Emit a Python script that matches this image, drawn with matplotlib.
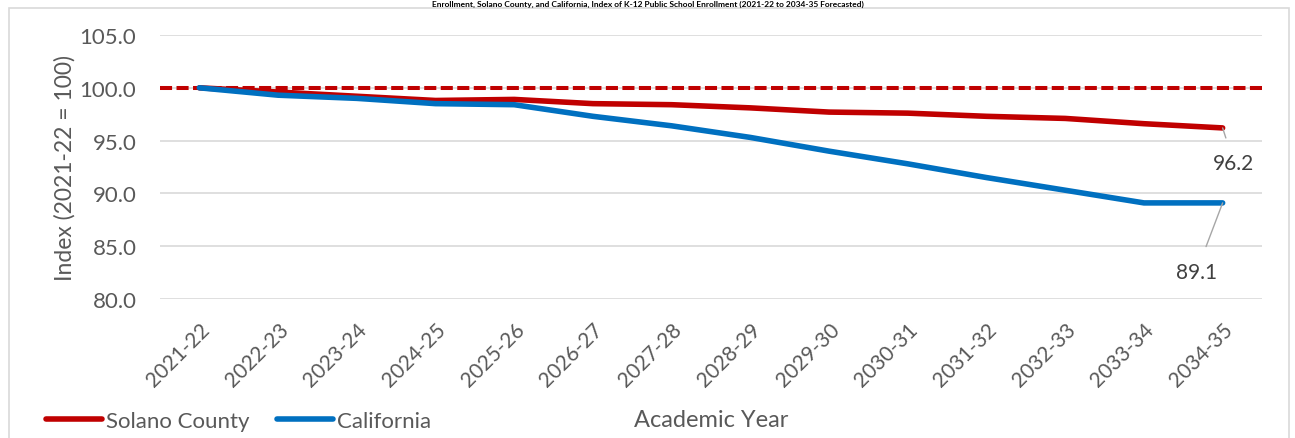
import matplotlib.pyplot as plt
from matplotlib.patches import Rectangle

years = ["2021-22", "2022-23", "2023-24", "2024-25", "2025-26", "2026-27", "2027-28",
         "2028-29", "2029-30", "2030-31", "2031-32", "2032-33", "2033-34", "2034-35"]
solano = [100.0, 99.6, 99.2, 98.8, 98.9, 98.5, 98.4, 98.1, 97.7, 97.6, 97.3, 97.1, 96.6, 96.2]
california = [100.0, 99.3, 99.0, 98.5, 98.4, 97.3, 96.4, 95.3, 94.0, 92.8, 91.5, 90.3, 89.1, 89.1]
baseline = 100.0
yticks = [80.0, 85.0, 90.0, 95.0, 100.0, 105.0]

RED = "#C00000"
BLUE = "#0070C0"
GRAY = "#595959"
W, H = 1295, 439

plt.rcParams["font.family"] = ["Lato", "DejaVu Sans"]

fig = plt.figure(figsize=(W / 100, H / 100), dpi=100)
ax = fig.add_axes([160 / W, 1 - 300 / H, (1262 - 160) / W, (300 - 36) / H])

# chart area outline (runs off the bottom of the crop)
fig.patches.append(Rectangle((9 / W, -0.1), (1289 - 9) / W, 1.1 - 9 / H,
                             transform=fig.transFigure, fill=False,
                             edgecolor="#D9D9D9", lw=1.2))

# title squeezed into the strip above the chart outline
fig.text(0.5, 1 - 0.5 / H, "Enrollment, Solano County, and California, Index of K-12 Public School "
         "Enrollment (2021-22 to 2034-35 Forecasted)", ha="center", va="top",
         fontsize=6, fontweight="bold", color="black")

x = list(range(len(years)))
ax.axhline(baseline, color=RED, lw=2.9, ls=(0, (3, 1.1)), zorder=2)
ax.plot(x, solano, color=RED, lw=4, solid_capstyle="round", label="Solano County", zorder=3)
ax.plot(x, california, color=BLUE, lw=4, solid_capstyle="round", label="California", zorder=3)

ax.set_xlim(-0.5, len(years) - 0.5)
ax.set_ylim(80, 105)
ax.set_yticks(yticks)
ax.set_yticklabels([f"{v:.1f}" for v in yticks])
ax.set_xticks(x)
ax.set_xticklabels(years, rotation=45, ha="right", rotation_mode="anchor")
ax.tick_params(length=0, labelsize=16, colors=GRAY)
ax.tick_params(axis="x", labelsize=15, pad=14)
ax.tick_params(axis="y", pad=17)
ax.grid(axis="y", color="#D9D9D9", lw=1.2)
ax.set_axisbelow(True)
for s in ax.spines.values():
    s.set_visible(False)

ax.set_ylabel("Index (2021-22 = 100)", fontsize=16.5, color=GRAY, labelpad=3)
fig.text(711 / W, 1 - 421 / H, "Academic Year", ha="center", va="center", fontsize=17, color=GRAY)

# end-point labels with leader lines
ax.annotate(f"{solano[-1]:.1f}", xy=(x[-1], solano[-1]), xytext=(8, -25),
            textcoords="offset points", ha="center", va="center", fontsize=15, color="#404040",
            arrowprops=dict(arrowstyle="-", color="#A6A6A6", lw=1, shrinkA=9, shrinkB=0))
ax.annotate(f"{california[-1]:.1f}", xy=(x[-1], california[-1]), xytext=(-19, -50),
            textcoords="offset points", ha="center", va="center", fontsize=15, color="#404040",
            arrowprops=dict(arrowstyle="-", color="#A6A6A6", lw=1, shrinkA=10, shrinkB=0))

handles, labels = ax.get_legend_handles_labels()
fig.legend(handles, labels, loc="center left", bbox_to_anchor=(46 / W, 1 - 422 / H),
           frameon=False, ncol=2, fontsize=16, labelcolor=GRAY, handlelength=2.5,
           handletextpad=0.2, columnspacing=1.25, borderaxespad=0, borderpad=0)

fig.savefig("out.png", dpi=100)
